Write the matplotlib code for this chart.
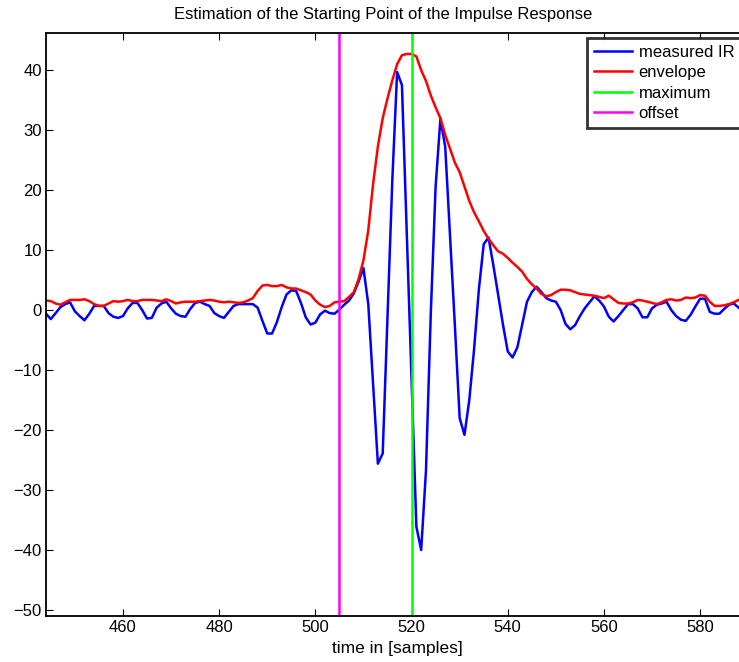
import numpy as np
import matplotlib
matplotlib.use("Agg")
import matplotlib.pyplot as plt

plt.rcParams['font.family'] = ['Liberation Sans', 'DejaVu Sans']

start_sample = 444
measured_ir = [
    -0.6, -1.5, -0.5, 0.5, 1.0, 1.3, -0.2, -1.0, -1.7, -0.6,   # 444-453
    0.7, 0.7, 0.7, -0.5, -1.1, -1.3, -1.0, 0.3, 1.2, 1.2,       # 454-463
    0.0, -1.4, -1.3, 0.4, 1.1, 1.4, 0.3, -0.6, -1.0, -1.1,      # 464-473
    0.2, 1.2, 1.4, 1.0, 0.7, -0.5, -1.0, -1.3, -0.3, 0.7,       # 474-483
    1.0, 1.0, 1.0, 1.0, 0.4, -1.8, -3.9, -3.9, -2.0, 0.5,       # 484-493
    2.6, 3.3, 3.2, 1.2, -1.2, -2.4, -2.1, -0.7, -0.1, -0.5,     # 494-503
    -0.6, 0.1, 0.9, 1.6, 2.8, 4.8, 7.0, 1.0, -12.3, -25.6,      # 504-513
    -23.9, -1.0, 21.7, 39.7, 37.5, 13.0, -12.0, -36.1, -40.0, -26.7,  # 514-523
    -0.5, 20.6, 31.9, 27.2, 12.5, -2.5, -18.0, -20.8, -15.0, -6.5,    # 524-533
    3.5, 11.0, 12.1, 7.5, 2.5, -2.4, -6.9, -7.9, -6.2, -2.4,    # 534-543
    1.4, 3.0, 3.9, 3.0, 2.0, 1.6, 1.4, 0.0, -2.3, -3.2,         # 544-553
    -2.5, -1.0, 0.3, 1.3, 2.3, 1.6, 0.6, -1.1, -1.9, -1.0,      # 554-563
    0.0, 1.0, 1.0, 0.3, -1.2, -1.2, 0.3, 0.9, 1.1, 1.4,         # 564-573
    0.0, -1.0, -1.6, -1.8, -0.8, 0.6, 1.9, 1.9, -0.3, -0.6,     # 574-583
    -0.6, 0.2, 0.9, 1.1, 0.4,                                   # 584-588
]
envelope = [
    1.6, 1.5, 1.1, 0.9, 1.3, 1.7, 1.7, 1.7, 1.8, 1.5,           # 444-453
    1.0, 0.7, 0.7, 1.1, 1.5, 1.4, 1.5, 1.7, 1.5, 1.5,           # 454-463
    1.7, 1.7, 1.7, 1.6, 1.5, 1.8, 1.5, 1.1, 1.3, 1.4,           # 464-473
    1.4, 1.4, 1.5, 1.6, 1.7, 1.6, 1.4, 1.3, 1.4, 1.3,           # 474-483
    1.2, 1.3, 1.6, 2.0, 3.2, 4.1, 4.2, 4.0, 4.0, 4.2,           # 484-493
    3.8, 3.6, 3.6, 3.3, 3.0, 2.6, 1.6, 0.9, 0.5, 0.7,           # 494-503
    1.3, 1.4, 1.5, 2.2, 3.0, 5.2, 8.3, 13.3, 21.0, 27.3,        # 504-513
    32.0, 35.3, 38.3, 41.0, 42.5, 42.7, 42.7, 42.3, 40.0, 38.2, # 514-523
    35.8, 33.8, 32.0, 29.2, 26.9, 24.6, 23.0, 20.6, 18.2, 16.3, # 524-533
    14.8, 13.2, 11.9, 10.8, 9.8, 9.4, 8.7, 7.9, 7.2, 6.4,       # 534-543
    5.2, 4.3, 3.6, 2.7, 2.3, 2.5, 3.0, 3.4, 3.4, 3.3,           # 544-553
    3.0, 2.7, 2.6, 2.5, 2.4, 2.2, 2.0, 2.4, 1.8, 1.2,           # 554-563
    1.1, 1.1, 1.3, 1.7, 1.6, 1.4, 1.2, 1.0, 1.3, 1.7,           # 564-573
    1.8, 1.6, 1.7, 2.1, 2.0, 2.1, 2.5, 2.4, 1.4, 0.7,           # 574-583
    0.7, 0.8, 1.0, 1.3, 1.7,                                    # 584-588
]
maximum_sample = 520
offset_sample = 505
legend_labels = ['measured IR', 'envelope', 'maximum', 'offset']
y_ticks = [-50, -40, -30, -20, -10, 0, 10, 20, 30, 40]
x_ticks = [460, 480, 500, 520, 540, 560, 580]

samples = np.arange(start_sample, start_sample + len(measured_ir))

W, H = 739, 662
fig = plt.figure(figsize=(W / 100, H / 100), dpi=100)
xl = (444, 600)
px_per = 4.81
ax_left, ax_top, ax_bottom = 46, 33, 616
ax_w = (xl[1] - xl[0]) * px_per
ax = fig.add_axes([ax_left / W, 1 - ax_bottom / H, ax_w / W, (ax_bottom - ax_top) / H])

lw = 1.8
l1, = ax.plot(samples, measured_ir, color=(0, 0, 1), lw=lw, label=legend_labels[0])
l2, = ax.plot(samples, envelope, color=(1, 0, 0), lw=lw, label=legend_labels[1])
l3 = ax.axvline(maximum_sample, color=(0, 1, 0), lw=lw, label=legend_labels[2])
l4 = ax.axvline(offset_sample, color=(1, 0, 1), lw=lw, label=legend_labels[3])

ax.set_xlim(*xl)
ax.set_ylim(-51, 46.2)
ax.set_xticks(x_ticks)
ax.set_yticks(y_ticks)
ax.tick_params(direction='in', length=5, width=0.8, top=True, right=True,
               labelsize=12, colors='black', pad=3)
for s in ax.spines.values():
    s.set_linewidth(1.3)
    s.set_color('black')

# legend anchored at its top-left corner in pixel terms
leg_x = (587 - ax_left) / ax_w
leg_y = (ax_bottom - 38) / (ax_bottom - ax_top)
leg = ax.legend(handles=[l1, l2, l3, l4], loc='upper left', bbox_to_anchor=(leg_x, leg_y),
                fontsize=12, frameon=True, fancybox=False, edgecolor='black',
                handlelength=2.3, handletextpad=0.4, labelspacing=0.33,
                borderpad=0.4, borderaxespad=0.0)
leg.get_frame().set_linewidth(2.0)

fig.text(383 / W, 1 - 14 / H, 'Estimation of the Starting Point of the Impulse Response',
         ha='center', va='center', fontsize=12)
fig.text(397 / W, 1 - 649 / H, 'time in [samples]', ha='center', va='center', fontsize=12.5)

fig.savefig('out.png', dpi=100)
